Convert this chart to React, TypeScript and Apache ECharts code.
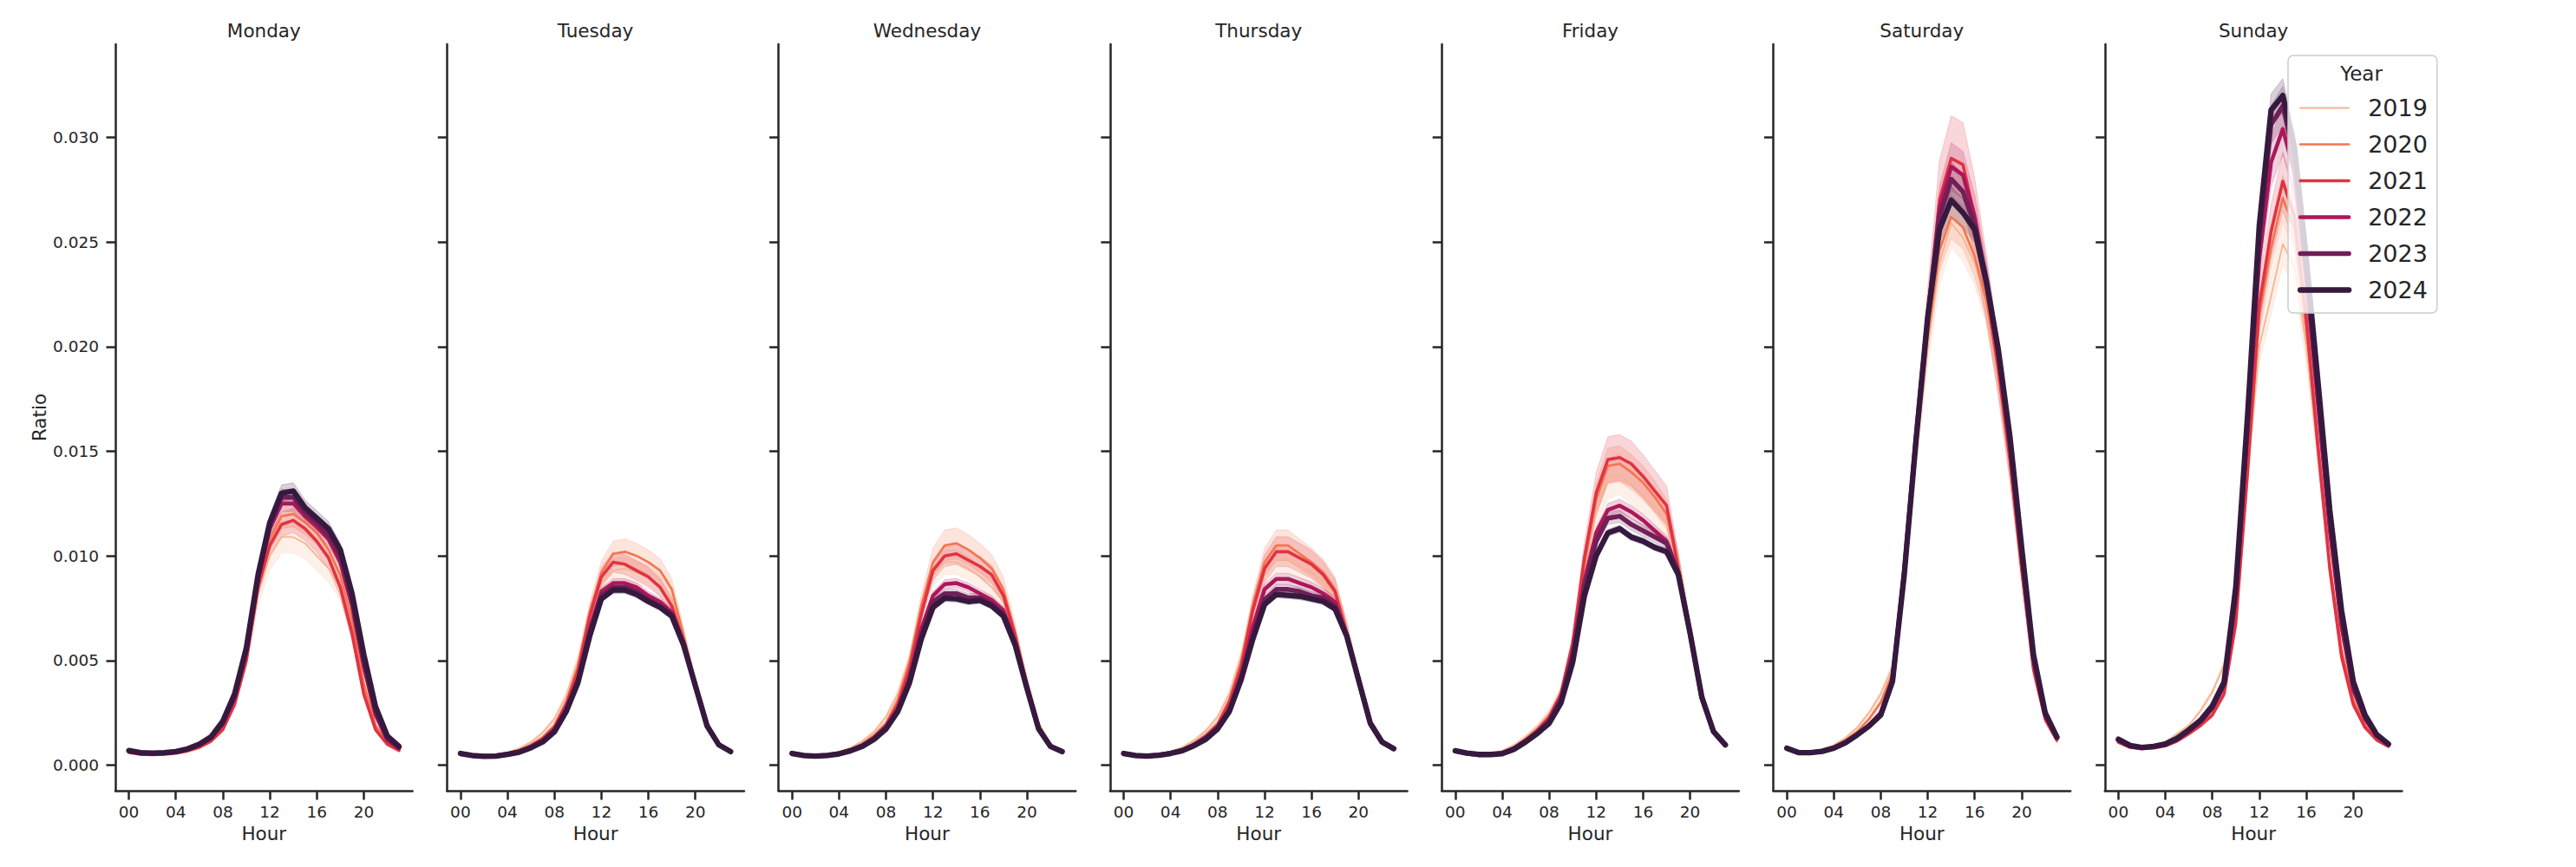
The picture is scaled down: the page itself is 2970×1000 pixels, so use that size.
import React, { useEffect, useRef } from "react";
import * as echarts from "echarts";

// ---------- data ----------
const dayNames = ["Monday", "Tuesday", "Wednesday", "Thursday", "Friday", "Saturday", "Sunday"];
const yearNames = ["2019", "2020", "2021", "2022", "2023", "2024"];
const yearColors = ["#f6b48f", "#f37651", "#e13342", "#ad1759", "#701f57", "#35193e"];
const yearWidths = [1.8, 2.7, 3.6, 4.5, 5.4, 6.3];
const hours = [0, 1, 2, 3, 4, 5, 6, 7, 8, 9, 10, 11, 12, 13, 14, 15, 16, 17, 18, 19, 20, 21, 22, 23];
const xTickValues = [0, 4, 8, 12, 16, 20];
const xTickLabels = ["00", "04", "08", "12", "16", "20"];
const yTickValues = [0, 0.005, 0.01, 0.015, 0.02, 0.025, 0.03];
const yTickLabels = ["0.000", "0.005", "0.010", "0.015", "0.020", "0.025", "0.030"];

// mean ratio per hour, rows = 2019..2024
const monday = [
  [0.00065, 0.00055, 0.00053, 0.00056, 0.00068, 0.00085, 0.0011, 0.00145, 0.002, 0.0031, 0.005, 0.0082, 0.01, 0.0109, 0.0109, 0.0106, 0.01, 0.0094, 0.0085, 0.0064, 0.0037, 0.0019, 0.0011, 0.0008],
  [0.00063, 0.00054, 0.00052, 0.00054, 0.0006, 0.00073, 0.00093, 0.00125, 0.0018, 0.003, 0.0052, 0.0087, 0.0108, 0.0119, 0.012, 0.0116, 0.0111, 0.0103, 0.0091, 0.0069, 0.0039, 0.0019, 0.0011, 0.0008],
  [0.0006, 0.00052, 0.0005, 0.00052, 0.00057, 0.00068, 0.00085, 0.00115, 0.0017, 0.0029, 0.005, 0.0085, 0.0105, 0.0115, 0.0117, 0.0113, 0.0107, 0.0099, 0.0085, 0.0063, 0.0034, 0.0017, 0.001, 0.0007],
  [0.00066, 0.00056, 0.00055, 0.00057, 0.00063, 0.00076, 0.00097, 0.0013, 0.002, 0.0032, 0.0054, 0.0089, 0.0113, 0.0125, 0.0125, 0.0119, 0.0114, 0.0108, 0.0097, 0.0076, 0.0047, 0.0024, 0.0012, 0.0008],
  [0.00068, 0.00058, 0.00056, 0.00058, 0.00064, 0.00077, 0.00098, 0.00132, 0.002, 0.0033, 0.0055, 0.009, 0.0115, 0.0128, 0.0128, 0.0121, 0.0116, 0.011, 0.01, 0.0079, 0.005, 0.0026, 0.0013, 0.00085],
  [0.0007, 0.0006, 0.00058, 0.0006, 0.00065, 0.00078, 0.001, 0.00135, 0.0021, 0.0034, 0.0056, 0.0091, 0.0116, 0.013, 0.0131, 0.0123, 0.0118, 0.0113, 0.0103, 0.0082, 0.0053, 0.0028, 0.0014, 0.0009],
];
const tuesday = [
  [0.00058, 0.00048, 0.00046, 0.0005, 0.00062, 0.0008, 0.0011, 0.00155, 0.0022, 0.0033, 0.005, 0.0072, 0.0087, 0.0093, 0.0094, 0.0092, 0.009, 0.0086, 0.0078, 0.0061, 0.004, 0.002, 0.001, 0.00068],
  [0.00057, 0.00047, 0.00044, 0.00046, 0.00057, 0.00072, 0.00097, 0.00133, 0.0019, 0.003, 0.0047, 0.0073, 0.0092, 0.0101, 0.0102, 0.01, 0.0097, 0.0093, 0.0084, 0.0062, 0.0039, 0.0019, 0.00098, 0.00066],
  [0.00055, 0.00045, 0.00042, 0.00044, 0.00054, 0.00068, 0.00092, 0.00125, 0.0018, 0.0029, 0.0045, 0.0071, 0.009, 0.0097, 0.0096, 0.0093, 0.009, 0.0085, 0.0076, 0.0059, 0.0038, 0.0018, 0.00095, 0.00065],
  [0.00056, 0.00046, 0.00043, 0.00045, 0.00053, 0.00066, 0.00088, 0.00118, 0.0017, 0.0027, 0.0041, 0.0065, 0.0083, 0.0087, 0.0087, 0.0085, 0.0081, 0.0078, 0.0073, 0.0058, 0.0038, 0.0019, 0.00098, 0.00066],
  [0.00056, 0.00046, 0.00043, 0.00044, 0.00052, 0.00064, 0.00085, 0.00114, 0.00163, 0.0026, 0.004, 0.0063, 0.0081, 0.0085, 0.0085, 0.0083, 0.0079, 0.0076, 0.0072, 0.0058, 0.0038, 0.0019, 0.00098, 0.00066],
  [0.00056, 0.00046, 0.00042, 0.00043, 0.00051, 0.00062, 0.00083, 0.00111, 0.00159, 0.00256, 0.00394, 0.00616, 0.00795, 0.00837, 0.00837, 0.00816, 0.00782, 0.00754, 0.00712, 0.00574, 0.0038, 0.00187, 0.00097, 0.00065],
];
const wednesday = [
  [0.00058, 0.00049, 0.00047, 0.0005, 0.00064, 0.00083, 0.00115, 0.0016, 0.0023, 0.0034, 0.0051, 0.0074, 0.0091, 0.0097, 0.0097, 0.0094, 0.009, 0.0085, 0.0078, 0.0062, 0.0041, 0.002, 0.001, 0.00068],
  [0.00057, 0.00047, 0.00045, 0.00048, 0.00059, 0.00076, 0.00103, 0.00143, 0.002, 0.0031, 0.0049, 0.0076, 0.0097, 0.0105, 0.0106, 0.0103, 0.0099, 0.0094, 0.0084, 0.0063, 0.0039, 0.0019, 0.00095, 0.00066],
  [0.00055, 0.00046, 0.00043, 0.00046, 0.00056, 0.00072, 0.00097, 0.00135, 0.0019, 0.0029, 0.0046, 0.0072, 0.0093, 0.01, 0.0101, 0.0098, 0.0095, 0.0091, 0.0081, 0.0062, 0.0038, 0.0018, 0.00092, 0.00065],
  [0.00056, 0.00046, 0.00044, 0.00047, 0.00056, 0.00072, 0.00095, 0.0013, 0.00183, 0.0027, 0.0042, 0.0065, 0.0081, 0.00865, 0.0087, 0.0085, 0.0082, 0.0079, 0.0074, 0.0059, 0.0037, 0.00175, 0.0009, 0.00065],
  [0.00056, 0.00046, 0.00044, 0.00047, 0.00055, 0.0007, 0.00092, 0.00127, 0.00178, 0.0026, 0.004, 0.0062, 0.0078, 0.0082, 0.0082, 0.008, 0.008, 0.0077, 0.0072, 0.0058, 0.0037, 0.00175, 0.0009, 0.00065],
  [0.00056, 0.00046, 0.00043, 0.00046, 0.00054, 0.00069, 0.0009, 0.00124, 0.00173, 0.00256, 0.00394, 0.00602, 0.00754, 0.00798, 0.00795, 0.00782, 0.00788, 0.00761, 0.00712, 0.00574, 0.00367, 0.00173, 0.0009, 0.00065],
];
const thursday = [
  [0.00058, 0.00049, 0.00047, 0.00052, 0.00066, 0.00085, 0.00118, 0.00165, 0.0023, 0.0034, 0.0052, 0.0076, 0.0092, 0.0098, 0.0098, 0.0095, 0.0092, 0.0088, 0.0081, 0.0065, 0.0043, 0.0021, 0.0011, 0.0008],
  [0.00057, 0.00047, 0.00045, 0.00049, 0.0006, 0.00077, 0.00105, 0.00145, 0.002, 0.0031, 0.0049, 0.0076, 0.0097, 0.0105, 0.0105, 0.0101, 0.0097, 0.0092, 0.0084, 0.0064, 0.0041, 0.002, 0.0011, 0.00078],
  [0.00055, 0.00045, 0.00043, 0.00047, 0.00058, 0.00073, 0.001, 0.00138, 0.0019, 0.003, 0.0047, 0.0074, 0.0094, 0.0102, 0.0102, 0.0099, 0.0096, 0.0091, 0.0083, 0.0063, 0.004, 0.0019, 0.00105, 0.00075],
  [0.00056, 0.00046, 0.00044, 0.00048, 0.00058, 0.00072, 0.00098, 0.00132, 0.00185, 0.0027, 0.0043, 0.0066, 0.0084, 0.0089, 0.0089, 0.0087, 0.0085, 0.0082, 0.0078, 0.0062, 0.0041, 0.002, 0.0011, 0.00078],
  [0.00056, 0.00046, 0.00044, 0.00048, 0.00057, 0.0007, 0.00095, 0.00127, 0.00178, 0.0026, 0.0041, 0.0062, 0.0079, 0.0084, 0.0084, 0.0083, 0.0081, 0.008, 0.0076, 0.0062, 0.0041, 0.002, 0.0011, 0.00078],
  [0.00056, 0.00046, 0.00043, 0.00047, 0.00056, 0.00069, 0.00093, 0.00124, 0.00173, 0.00256, 0.00408, 0.00602, 0.00768, 0.00816, 0.00812, 0.00807, 0.00795, 0.00782, 0.00747, 0.00616, 0.00408, 0.00201, 0.00111, 0.00079],
];
const friday = [
  [0.0007, 0.0006, 0.00054, 0.00058, 0.00068, 0.00095, 0.00135, 0.00185, 0.0025, 0.0035, 0.0057, 0.0093, 0.0123, 0.0137, 0.0139, 0.0134, 0.0129, 0.0123, 0.0116, 0.0096, 0.0065, 0.0034, 0.0017, 0.001],
  [0.00068, 0.00057, 0.00051, 0.00053, 0.0006, 0.00085, 0.00125, 0.00172, 0.0023, 0.0034, 0.0057, 0.0096, 0.0127, 0.0143, 0.0144, 0.014, 0.0135, 0.0128, 0.012, 0.0095, 0.0064, 0.0033, 0.0016, 0.00097],
  [0.00067, 0.00056, 0.0005, 0.00052, 0.00058, 0.00082, 0.0012, 0.00167, 0.0023, 0.0034, 0.0058, 0.0099, 0.013, 0.0146, 0.0147, 0.0144, 0.0138, 0.0131, 0.0124, 0.0094, 0.0063, 0.0032, 0.0016, 0.00095],
  [0.00068, 0.00057, 0.0005, 0.00052, 0.00057, 0.0008, 0.00117, 0.0016, 0.00215, 0.0032, 0.0054, 0.0088, 0.0111, 0.0122, 0.0124, 0.0121, 0.0117, 0.0112, 0.0107, 0.0092, 0.0063, 0.0032, 0.0016, 0.00097],
  [0.00068, 0.00057, 0.0005, 0.00051, 0.00056, 0.00078, 0.00114, 0.00157, 0.0021, 0.0031, 0.0052, 0.0085, 0.0107, 0.0118, 0.0119, 0.0115, 0.0112, 0.0109, 0.0106, 0.0092, 0.0063, 0.0032, 0.0016, 0.00097],
  [0.00069, 0.00058, 0.00051, 0.00051, 0.00055, 0.00076, 0.00111, 0.00152, 0.002, 0.00297, 0.00491, 0.00809, 0.01, 0.0111, 0.0113, 0.0109, 0.0107, 0.0104, 0.0102, 0.0091, 0.0063, 0.00325, 0.0016, 0.00097],
];
const saturday = [
  [0.00085, 0.00065, 0.00065, 0.00075, 0.00095, 0.0013, 0.0018, 0.0025, 0.0034, 0.0047, 0.0089, 0.0148, 0.02, 0.024, 0.0259, 0.0252, 0.024, 0.022, 0.0186, 0.0142, 0.0091, 0.0045, 0.0021, 0.0011],
  [0.00084, 0.00063, 0.00063, 0.00072, 0.0009, 0.0012, 0.0016, 0.0022, 0.003, 0.0044, 0.009, 0.0151, 0.0205, 0.0246, 0.0262, 0.0257, 0.0243, 0.0222, 0.0188, 0.0145, 0.0093, 0.0046, 0.0022, 0.0012],
  [0.00082, 0.00061, 0.00061, 0.00067, 0.00082, 0.00108, 0.00145, 0.0019, 0.0025, 0.0041, 0.0092, 0.0156, 0.0213, 0.027, 0.029, 0.0287, 0.0262, 0.0228, 0.019, 0.0146, 0.0094, 0.0046, 0.0022, 0.0012],
  [0.00082, 0.00061, 0.00061, 0.00067, 0.00082, 0.00108, 0.00146, 0.0019, 0.0025, 0.0041, 0.0093, 0.0157, 0.0215, 0.0266, 0.0286, 0.0282, 0.0262, 0.0231, 0.0196, 0.0152, 0.0099, 0.005, 0.0024, 0.0013],
  [0.00081, 0.0006, 0.0006, 0.00066, 0.00081, 0.00107, 0.00145, 0.00188, 0.0024, 0.004, 0.0092, 0.0156, 0.0214, 0.0262, 0.028, 0.0274, 0.0258, 0.0231, 0.0198, 0.0155, 0.0102, 0.0052, 0.0025, 0.00133],
  [0.00081, 0.0006, 0.0006, 0.00066, 0.00081, 0.00107, 0.00145, 0.00187, 0.0024, 0.004, 0.0091, 0.0155, 0.0214, 0.0256, 0.027, 0.0264, 0.0256, 0.0231, 0.0199, 0.0157, 0.0104, 0.0053, 0.0025, 0.00134],
];
const sunday = [
  [0.0011, 0.00088, 0.00082, 0.0009, 0.0011, 0.0015, 0.0019, 0.0026, 0.0035, 0.0048, 0.0075, 0.014, 0.02, 0.0224, 0.0249, 0.0238, 0.02, 0.0148, 0.0095, 0.0056, 0.0032, 0.002, 0.0013, 0.00095],
  [0.0011, 0.00086, 0.0008, 0.00086, 0.001, 0.0013, 0.0017, 0.0022, 0.0029, 0.004, 0.0071, 0.0142, 0.0215, 0.0247, 0.0271, 0.0256, 0.021, 0.0152, 0.0096, 0.0055, 0.0031, 0.0019, 0.0012, 0.00092],
  [0.0011, 0.00085, 0.00078, 0.00082, 0.00092, 0.00115, 0.0015, 0.0019, 0.0024, 0.0034, 0.0068, 0.014, 0.022, 0.0255, 0.0279, 0.0262, 0.0213, 0.0152, 0.0094, 0.0052, 0.0029, 0.0018, 0.0012, 0.0009],
  [0.0012, 0.0009, 0.00082, 0.00087, 0.00097, 0.00123, 0.0016, 0.00205, 0.0027, 0.0038, 0.008, 0.016, 0.0242, 0.0288, 0.0304, 0.0283, 0.0232, 0.0172, 0.0112, 0.0066, 0.0036, 0.0022, 0.0014, 0.00098],
  [0.0012, 0.00092, 0.00084, 0.00089, 0.001, 0.00126, 0.00166, 0.00212, 0.0028, 0.0039, 0.0083, 0.0164, 0.0252, 0.0306, 0.0315, 0.029, 0.0238, 0.0178, 0.0118, 0.0071, 0.0038, 0.0023, 0.00143, 0.001],
  [0.00124, 0.00094, 0.00085, 0.0009, 0.00101, 0.00128, 0.00169, 0.00215, 0.00283, 0.00397, 0.00852, 0.0167, 0.0258, 0.0313, 0.032, 0.0295, 0.0242, 0.0183, 0.0122, 0.0074, 0.004, 0.0024, 0.00146, 0.00101],
];

// relative half-width of the confidence band, per year (2019..2024)
const ciMonday = [0.07, 0.05, 0.05, 0.03, 0.03, 0.03];
const ciTuesday = [0.06, 0.06, 0.05, 0.025, 0.025, 0.02];
const ciWednesday = [0.06, 0.07, 0.05, 0.025, 0.025, 0.02];
const ciThursday = [0.06, 0.07, 0.07, 0.03, 0.025, 0.02];
const ciFriday = [0.07, 0.06, 0.075, 0.025, 0.025, 0.015];
const ciSaturday = [0.045, 0.04, 0.07, 0.04, 0.03, 0.025];
const ciSunday = [0.04, 0.04, 0.05, 0.04, 0.03, 0.025];

const dayValues = [monday, tuesday, wednesday, thursday, friday, saturday, sunday];
const dayCI = [ciMonday, ciTuesday, ciWednesday, ciThursday, ciFriday, ciSaturday, ciSunday];

// ---------- layout / style ----------
const FONT = "DejaVu Sans";
const INK = "#262626";
const PANEL_LEFT = 133;
const PANEL_STEP = 382.3;
const PANEL_W = 342.6;
const PANEL_TOP = 51;
const PANEL_H = 861;
const X_MIN = -1.15;
const X_MAX = 24.15;
const Y_MIN = -0.00122;
const Y_MAX = 0.03445;

function hexToRgba(hex: string, a: number) {
  const n = parseInt(hex.slice(1), 16);
  return `rgba(${(n >> 16) & 255},${(n >> 8) & 255},${n & 255},${a})`;
}

function buildOption() {
  const grid: any[] = [];
  const xAxis: any[] = [];
  const yAxis: any[] = [];
  const series: any[] = [];
  const title: any[] = [];

  dayNames.forEach((day, i) => {
    const left = PANEL_LEFT + i * PANEL_STEP;
    grid.push({ left, top: PANEL_TOP, width: PANEL_W, height: PANEL_H, containLabel: false });
    title.push({
      text: day,
      left: left + PANEL_W / 2,
      top: 24,
      textAlign: "center",
      padding: 0,
      textStyle: { fontFamily: FONT, fontSize: 21.5, fontWeight: "normal", color: INK },
    });
    xAxis.push({
      type: "value",
      gridIndex: i,
      min: X_MIN,
      max: X_MAX,
      splitLine: { show: false },
      axisLine: { show: true, onZero: false, lineStyle: { color: INK, width: 2.5 } },
      axisTick: { show: true, length: 10.5, lineStyle: { color: INK, width: 2.5 }, customValues: xTickValues },
      axisLabel: {
        show: true,
        customValues: xTickValues,
        formatter: (v: number) => {
          const k = xTickValues.indexOf(v);
          return k >= 0 ? xTickLabels[k] : "";
        },
        fontFamily: FONT,
        fontSize: 18.5,
        color: INK,
        margin: 15,
      },
      name: "Hour",
      nameLocation: "middle",
      nameGap: 37,
      nameTextStyle: { fontFamily: FONT, fontSize: 21.5, color: INK },
    });
    yAxis.push({
      type: "value",
      gridIndex: i,
      min: Y_MIN,
      max: Y_MAX,
      splitLine: { show: false },
      axisLine: { show: true, onZero: false, lineStyle: { color: INK, width: 2.5 } },
      axisTick: { show: true, length: 10.5, lineStyle: { color: INK, width: 2.5 }, customValues: yTickValues },
      axisLabel: {
        show: i === 0,
        customValues: yTickValues,
        formatter: (v: number) => {
          let best = 0;
          yTickValues.forEach((t, k) => {
            if (Math.abs(t - v) < Math.abs(yTickValues[best] - v)) best = k;
          });
          return yTickLabels[best];
        },
        fontFamily: FONT,
        fontSize: 18.5,
        color: INK,
        margin: 19,
      },
      name: i === 0 ? "Ratio" : "",
      nameLocation: "middle",
      nameGap: 77,
      nameTextStyle: { fontFamily: FONT, fontSize: 21.5, color: INK },
    });

    const vals = dayValues[i];
    const ci = dayCI[i];

    // confidence bands (drawn below all lines, like matplotlib's zorder)
    series.push({
      type: "custom",
      name: `${day} bands`,
      xAxisIndex: i,
      yAxisIndex: i,
      silent: true,
      z: 1,
      data: yearNames.map((_, j) => [j]),
      renderItem: (params: any, api: any) => {
        const j = api.value(0);
        const upper = hours.map((h, k) => api.coord([h, vals[j][k] * (1 + ci[j])]));
        const lower = hours.map((h, k) => api.coord([h, vals[j][k] * (1 - ci[j])])).reverse();
        return {
          type: "polygon",
          shape: { points: upper.concat(lower) },
          style: {
            fill: hexToRgba(yearColors[j], 0.2),
            stroke: hexToRgba(yearColors[j], 0.2),
            lineWidth: 1,
          },
        };
      },
    });

    yearNames.forEach((yr, j) => {
      series.push({
        type: "line",
        name: yr,
        xAxisIndex: i,
        yAxisIndex: i,
        data: hours.map((h, k) => [h, vals[j][k]]),
        symbol: "none",
        silent: true,
        z: 2 + j * 0.01,
        itemStyle: { color: yearColors[j] },
        lineStyle: { color: yearColors[j], width: yearWidths[j], join: "round", cap: "round" },
      });
    });
  });

  title.push({
    text: "Year",
    left: 2722.5,
    top: 73,
    textAlign: "center",
    padding: 0,
    z: 10,
    textStyle: { fontFamily: FONT, fontSize: 23, fontWeight: "normal", color: INK },
  });

  return {
    animation: false,
    backgroundColor: "#ffffff",
    textStyle: { fontFamily: FONT },
    title,
    grid,
    xAxis,
    yAxis,
    legend: {
      data: yearNames,
      orient: "vertical",
      left: 2638,
      top: 64,
      padding: [47, 11, 13, 11],
      itemGap: 15,
      itemWidth: 56,
      itemHeight: 20,
      selectedMode: false,
      backgroundColor: "rgba(255,255,255,0.8)",
      borderColor: "#cccccc",
      borderWidth: 1.5,
      borderRadius: 6,
      itemStyle: { opacity: 0 },
      lineStyle: { width: "inherit" },
      textStyle: { fontFamily: FONT, fontSize: 27, color: INK, padding: [0, 0, 0, 17] },
    },
    series,
  };
}

export default function App() {
  const ref = useRef<HTMLDivElement>(null);
  useEffect(() => {
    if (!ref.current) return;
    const chart = echarts.init(ref.current, undefined, { renderer: "svg" });
    chart.setOption(buildOption() as any);
    return () => chart.dispose();
  }, []);
  return (
    <div
      ref={ref}
      style={{ position: "absolute", left: 0, top: 0, width: "2970px", height: "1000px", background: "#fff" }}
    />
  );
}
